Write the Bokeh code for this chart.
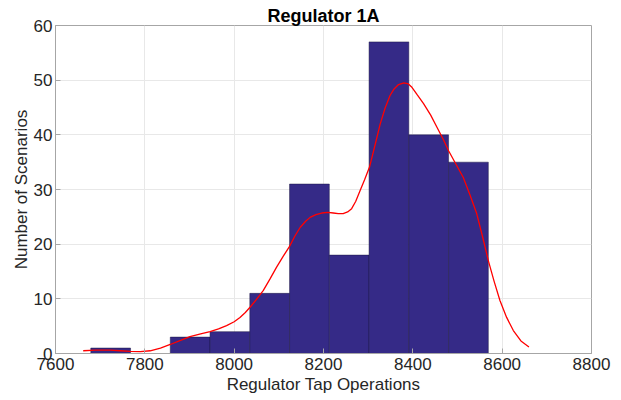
from bokeh.plotting import figure
from bokeh.embed import file_html
from bokeh.resources import INLINE
from bokeh.models import FixedTicker, Range1d

# Histogram data
bin_edges = [7679, 7768, 7857, 7946, 8035, 8124, 8213, 8302, 8391, 8480, 8569]
counts = [1, 0, 3, 4, 11, 31, 18, 57, 40, 35]

# Fitted density curve (scaled to counts)
curve_x = [7662, 7690, 7722, 7745, 7767, 7790, 7812, 7835, 7857, 7880, 7901, 7925,
           7946, 7965, 7983, 8000, 8013, 8025, 8036, 8050, 8065, 8080, 8095, 8110,
           8124, 8136, 8148, 8160, 8170, 8183, 8196, 8210, 8222, 8233, 8244, 8254,
           8263, 8272, 8282, 8292, 8303, 8315, 8327, 8338, 8349, 8358, 8368, 8380,
           8390, 8398, 8410, 8424, 8440, 8454, 8468, 8480, 8496, 8513, 8528, 8543,
           8556, 8569, 8582, 8595, 8610, 8625, 8642, 8660]
curve_y = [0.5, 0.6, 0.6, 0.5, 0.38, 0.35, 0.5, 1.0, 1.65, 2.4, 3.1, 3.6,
           4.0, 4.5, 5.1, 5.8, 6.6, 7.5, 8.5, 9.9, 11.5, 13.6, 15.8, 17.8,
           19.6, 21.5, 23.1, 24.2, 24.9, 25.4, 25.7, 25.8, 25.7, 25.6, 25.6, 25.9,
           26.5, 27.8, 29.8, 31.8, 34.1, 38.0, 42.0, 44.9, 47.2, 48.4, 49.2, 49.5,
           49.3, 48.7, 47.3, 45.7, 43.6, 41.4, 39.2, 37.1, 34.7, 32.2, 29.0, 25.6,
           21.4, 17.0, 13.2, 9.7, 6.6, 4.2, 2.3, 1.2]

x_ticks = [7600, 7800, 8000, 8200, 8400, 8600, 8800]
y_ticks = [0, 10, 20, 30, 40, 50, 60]

FONT = "Liberation Sans"
TXT = "#262626"

p = figure(width=613, height=396, output_backend="svg", toolbar_location=None,
           x_range=Range1d(7600, 8800), y_range=Range1d(0, 60),
           title="Regulator 1A",
           min_border_left=55, min_border_right=22, min_border_top=25, min_border_bottom=39)

p.title.text_font = FONT
p.title.text_font_size = "18px"
p.title.text_font_style = "bold"
p.title.align = "center"
p.title.text_color = "#000000"
p.title.standoff = 0

left = [bin_edges[i] for i in range(len(counts)) if counts[i] > 0]
right = [bin_edges[i + 1] for i in range(len(counts)) if counts[i] > 0]
top = [c for c in counts if c > 0]
p.quad(left=left, right=right, top=top, bottom=0,
       fill_color="#352a87", line_color="#1a1540", line_alpha=0.6, line_width=0.8)

p.line(curve_x, curve_y, line_color="#ff0000", line_width=1.3)

for ax in (p.xaxis[0], p.yaxis[0]):
    ax.axis_line_color = "#a6a6a6"
    ax.major_tick_line_color = "#a6a6a6"
    ax.major_tick_in = 5
    ax.major_tick_out = 0
    ax.minor_tick_line_color = None
    ax.major_label_text_font = FONT
    ax.major_label_text_font_size = "17px"
    ax.major_label_text_color = TXT
    ax.axis_label_text_font = FONT
    ax.axis_label_text_font_size = "17px"
    ax.axis_label_text_font_style = "normal"
    ax.axis_label_text_color = TXT

p.xaxis.ticker = FixedTicker(ticks=x_ticks)
p.yaxis.ticker = FixedTicker(ticks=y_ticks)
p.xaxis.axis_label = "Regulator Tap Operations"
p.yaxis.axis_label = "Number of Scenarios"
p.xaxis.major_label_standoff = 4
p.yaxis.major_label_standoff = 3
p.xaxis.axis_label_standoff = 2
p.yaxis.axis_label_standoff = 0

p.xgrid.grid_line_color = "#e8e8e8"
p.ygrid.grid_line_color = "#e8e8e8"
p.xgrid.ticker = FixedTicker(ticks=x_ticks)
p.ygrid.ticker = FixedTicker(ticks=y_ticks)

p.outline_line_color = "#a6a6a6"
p.outline_line_width = 1
p.background_fill_color = "white"
p.border_fill_color = "white"

open("out.html", "w").write(file_html(p, INLINE))
